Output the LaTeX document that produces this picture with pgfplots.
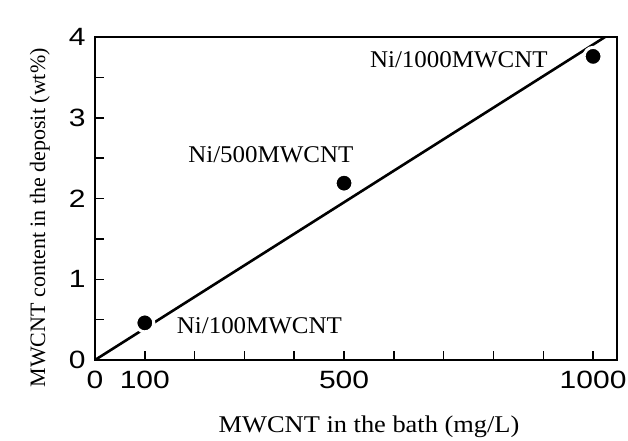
\documentclass[border=0pt]{standalone}
\usepackage{fontspec}
\setmainfont{Liberation Serif}
\newfontfamily\arial{Liberation Sans}
\usepackage{pgfplots}
\pgfplotsset{compat=1.18}
\usetikzlibrary{calc}
\newcommand\tl[1]{\scalebox{1.2}[1]{#1}}
\begin{document}
\begin{tikzpicture}
\begin{axis}[
  scale only axis,
  width=522bp, height=323bp,
  xmin=0, xmax=1048, ymin=0, ymax=4,
  axis line style={line width=1.7bp},
  tick style={line width=1.5bp, black},
  tick align=inside,
  major tick length=9bp,
  xtick pos=left, ytick pos=left,
  xtick={0,100,200,300,400,500,600,700,800,900,1000},
  xticklabels={\tl{0},\tl{100},,,,\tl{500},,,,,\tl{1000}},
  ytick={0,0.5,1,1.5,2,2.5,3,3.5,4},
  yticklabels={\tl{0},,\tl{1},,\tl{2},,\tl{3},,\tl{4}},
  ticklabel style={font=\fontsize{25bp}{25bp}\selectfont\arial},
  xticklabel style={yshift=-8bp},
  yticklabel style={xshift=-6bp},
  xlabel={\scalebox{1.1}[1]{MWCNT in the bath (mg/L)}},
  ylabel={MWCNT content in the deposit (wt\%)},
  label style={font=\fontsize{22bp}{22bp}\selectfont},
  xlabel style={at={(axis description cs:0.525,-0.226)}, anchor=base, font=\fontsize{24bp}{24bp}\selectfont},
  ylabel style={at={(axis description cs:-0.08,0.44)}, anchor=south},
  clip=true,
]
\addplot[black, line width=2.6bp] coordinates {(0,0) (1024,4)};
\addplot[only marks, mark=*, mark size=9bp, mark options={fill=black, draw=white, line width=3bp}] coordinates {
(100,0.46) (500,2.19) (1000,3.76)};
\node[anchor=base west, inner sep=0, font=\fontsize{24bp}{24bp}\selectfont] at (axis cs:164,0.334) {\scalebox{1.04}[1]{Ni/100MWCNT}};
\node[anchor=base west, inner sep=0, font=\fontsize{24bp}{24bp}\selectfont] at (axis cs:187,2.45) {\scalebox{1.04}[1]{Ni/500MWCNT}};
\node[anchor=base east, inner sep=0, font=\fontsize{24bp}{24bp}\selectfont] at (axis cs:909,3.62) {\scalebox{1.04}[1]{Ni/1000MWCNT}};
\end{axis}
\pgfresetboundingbox
\path[use as bounding box] ($(current axis.south west)+(-95bp,-81bp)$) rectangle ($(current axis.north east)+(11bp,37bp)$);
\end{tikzpicture}
\end{document}
